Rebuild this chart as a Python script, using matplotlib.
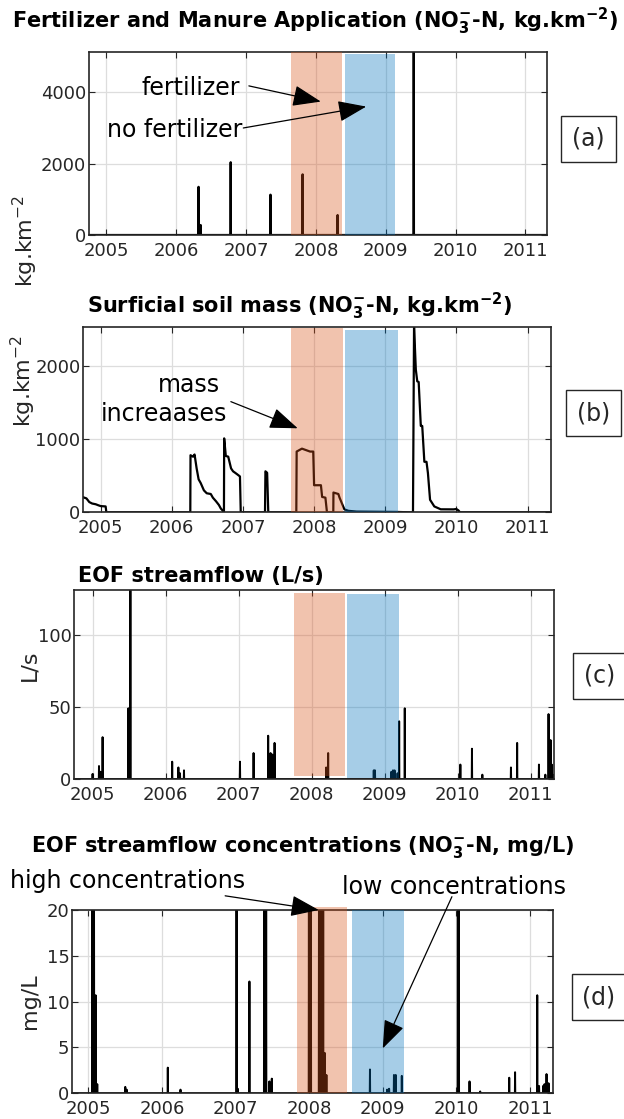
import numpy as np
import matplotlib
matplotlib.use('Agg')
import matplotlib.pyplot as plt
from matplotlib.patches import Rectangle

W, H = 624, 1119

# ---- data (decimal years) ----
# (a) fertilizer / manure applications, kg.km-2
fert_dates = [2006.32, 2006.35, 2006.78, 2007.35, 2007.81, 2008.31, 2009.40]
fert_vals = [1350, 280, 2040, 1130, 1700, 560, 5130]

# (b) surficial soil mass, kg.km-2
soil_t = [2004.756, 2004.80, 2004.84, 2004.88, 2004.93, 2004.97, 2005.00, 2005.07, 2005.08,
          2006.26, 2006.263, 2006.298, 2006.32, 2006.349, 2006.377, 2006.406, 2006.451,
          2006.491, 2006.548, 2006.577, 2006.622, 2006.662, 2006.690, 2006.719, 2006.733,
          2006.736, 2006.759, 2006.793, 2006.833, 2006.861, 2006.890, 2006.918, 2006.958,
          2006.969, 2007.31, 2007.316, 2007.34, 2007.356, 2007.75, 2007.755, 2007.829,
          2007.886, 2007.943, 2007.988, 2008.0, 2008.096, 2008.113, 2008.159, 2008.181,
          2008.27, 2008.272, 2008.341, 2008.358, 2008.426, 2008.483, 2008.597, 2009.166,
          2009.337, 2009.39, 2009.405, 2009.43, 2009.45, 2009.47, 2009.50, 2009.52,
          2009.55, 2009.58, 2009.60, 2009.63, 2009.69, 2009.78, 2009.96, 2010.0, 2010.03,
          2010.05, 2011.33]
soil_v = [205, 190, 140, 120, 110, 95, 85, 80, 0,
          0, 780, 760, 790, 600, 450, 400, 300,
          260, 250, 200, 150, 100, 50, 20, 0,
          1010, 770, 760, 600, 560, 540, 520, 490,
          0, 0, 560, 540, 0, 0, 830, 870,
          850, 830, 830, 370, 370, 210, 200, 0,
          0, 270, 250, 200, 40, 20, 10, 5,
          0, 0, 2540, 1950, 1790, 1780, 1180, 1180,
          690, 690, 536, 171, 80, 41, 40, 45, 25,
          0, 0]

# (c) EOF streamflow, L/s
flow_dates = [2005.0, 2005.087, 2005.109, 2005.136, 2005.490, 2005.517, 2006.088, 2006.175,
              2006.197, 2006.251, 2007.018, 2007.203, 2007.405, 2007.437, 2007.459, 2007.492,
              2008.199, 2008.226, 2008.852, 2008.868, 2009.091, 2009.113, 2009.135, 2009.178,
              2009.200, 2009.276, 2010.038, 2010.196, 2010.337, 2010.729, 2010.816, 2011.115,
              2011.202, 2011.246, 2011.273, 2011.289, 2011.306]
flow_vals = [3.5, 9, 5, 29, 49, 135, 12, 8,
             4, 6, 12, 18, 30, 18, 17, 25,
             8, 18, 6, 6, 5, 6, 6, 4,
             40, 49, 10, 21, 3, 8, 25, 10,
             3, 45, 27, 10, 3]

# (d) EOF NO3-N concentrations, mg/L
conc_dates = [2005.054, 2005.075, 2005.097, 2005.119, 2005.50, 2005.52, 2006.078, 2006.25,
              2007.011, 2007.03, 2007.189, 2007.388, 2007.415, 2007.458, 2007.491, 2007.997,
              2008.024, 2008.132, 2008.164, 2008.191, 2008.213, 2008.234, 2008.827, 2009.059,
              2009.086, 2009.151, 2009.178, 2009.259, 2010.02, 2010.035, 2010.18, 2010.326,
              2010.72, 2010.80, 2011.10, 2011.124, 2011.18, 2011.20, 2011.226, 2011.253]
conc_vals = [21, 21, 10.7, 1.0, 0.7, 0.4, 2.8, 0.4,
             21, 0.5, 12.2, 21, 21, 1.3, 1.6, 21,
             21, 21, 21, 21, 4.4, 2.0, 2.6, 0.4,
             0.5, 2.0, 2.0, 1.9, 21, 21, 1.3, 0.2,
             1.7, 2.3, 10.7, 0.8, 0.8, 1.0, 2.1, 1.1]

# shaded periods per panel: (x0, x1, y0, y1)
fert_span = {'a': (2007.64, 2008.37, 0, 5130), 'b': (2007.675, 2008.40, 0, 2525),
             'c': (2007.764, 2008.45, 2.3, 129), 'd': (2007.83, 2008.52, 0, 20.3)}
nofert_span = {'a': (2008.41, 2009.14, 0, 5060), 'b': (2008.44, 2009.18, 0, 2490),
               'c': (2008.49, 2009.19, 0.5, 128), 'd': (2008.58, 2009.29, 0, 20)}

years = [2005, 2006, 2007, 2008, 2009, 2010, 2011]

ORANGE = (0.85, 0.325, 0.098)
BLUE = (0.0, 0.447, 0.741)
TXT = '#262626'

fig = plt.figure(figsize=(W / 100, H / 100), dpi=100)


def px_axes(l, t, r, b):
    return fig.add_axes([l / W, 1 - b / H, (r - l) / W, (b - t) / H])


def daily(dates, vals, t0, t1):
    t = np.arange(t0, t1, 1 / 365.0)
    y = np.zeros_like(t)
    for d, v in zip(dates, vals):
        y[int(round((d - t0) * 365))] = v
    return t, y


def style(ax, xlim, ylim, yticks):
    ax.set_xlim(*xlim)
    ax.set_ylim(*ylim)
    ax.set_xticks(years)
    ax.set_xticklabels([str(y) for y in years])
    ax.set_yticks(yticks)
    ax.grid(True, color='#dddddd', lw=0.9)
    ax.set_axisbelow(True)
    ax.tick_params(direction='in', top=True, right=True, length=4, width=0.8,
                   labelsize=13, labelcolor=TXT, color=TXT, pad=5)
    ax.tick_params(axis='y', pad=2)
    for s in ax.spines.values():
        s.set_color(TXT)
        s.set_linewidth(1.2)


def spans(ax, key):
    for sp, c in [(fert_span[key], ORANGE), (nofert_span[key], BLUE)]:
        x0, x1, y0, y1 = sp
        ax.fill_between([x0, x1], y0, y1, color=c, alpha=0.35, lw=0, zorder=3, clip_on=False)


def label_box(cx, cy, txt):
    w, h = 55, 46
    fig.add_artist(Rectangle(((cx - w / 2) / W, 1 - (cy + h / 2) / H), w / W, h / H,
                             transform=fig.transFigure, fill=False, ec=TXT, lw=1.0))
    fig.text(cx / W, 1 - cy / H, txt, ha='center', va='center', fontsize=17, color=TXT)


def ftext(x, y, s, **kw):
    fig.text(x / W, 1 - y / H, s, ha='center', va='center', **kw)


arrow = dict(arrowstyle='-|>,head_length=0.8,head_width=0.3', color='k', lw=0.9,
             mutation_scale=22, shrinkA=0, shrinkB=0)

# ---- (a) ----
ax = px_axes(89, 52, 547, 235)
t, y = daily(fert_dates, fert_vals, 2004.7, 2011.35)
ax.plot(t, y, color='k', lw=1.6, zorder=2)
spans(ax, 'a')
style(ax, (2004.75, 2011.31), (0, 5130), [0, 2000, 4000])
ax.text(2006.91, 4123, 'fertilizer', ha='right', va='center', fontsize=17)
ax.text(2006.95, 2945, 'no fertilizer', ha='right', va='center', fontsize=17)
ax.annotate('', xy=(2008.07, 3740), xytext=(2007.04, 4180), arrowprops=arrow)
ax.annotate('', xy=(2008.72, 3600), xytext=(2006.96, 3000), arrowprops=arrow)
ftext(315, 21, r'Fertilizer and Manure Application (NO$_\mathbf{3}^\mathbf{-}$-N, kg.km$^\mathbf{-2}$)',
      fontsize=15, fontweight='bold')
ftext(25, 241, r'kg.km$^{-2}$', rotation=90, fontsize=16, color=TXT)
label_box(588.5, 138.5, '(a)')

# ---- (b) ----
ax = px_axes(83.3, 326.7, 551, 512.3)
ax.plot(soil_t, soil_v, color='k', lw=1.6, zorder=2)
spans(ax, 'b')
style(ax, (2004.756, 2011.33), (0, 2536), [0, 1000, 2000])
ax.text(2006.24, 1739, 'mass', ha='center', va='center', fontsize=17)
ax.text(2005.89, 1343, 'increaases', ha='center', va='center', fontsize=17)
ax.annotate('', xy=(2007.77, 1148), xytext=(2006.83, 1512), arrowprops=arrow)
ftext(300, 306, r'Surficial soil mass (NO$_\mathbf{3}^\mathbf{-}$-N, kg.km$^\mathbf{-2}$)',
      fontsize=15, fontweight='bold')
ftext(23, 381, r'kg.km$^{-2}$', rotation=90, fontsize=16, color=TXT)
label_box(593.5, 413, '(b)')

# ---- (c) ----
ax = px_axes(74.3, 590, 554, 779)
t, y = daily(flow_dates, flow_vals, 2004.7, 2011.35)
ax.plot(t, y, color='k', lw=1.4, zorder=2)
spans(ax, 'c')
style(ax, (2004.748, 2011.32), (0, 131), [0, 50, 100])
ftext(201, 576, 'EOF streamflow (L/s)', fontsize=15, fontweight='bold')
ftext(29, 665, 'L/s', rotation=90, fontsize=16, color=TXT)
label_box(600, 676, '(c)')

# ---- (d) ----
ax = px_axes(72.3, 910, 552.7, 1093.3)
t, y = daily(conc_dates, conc_vals, 2004.7, 2011.35)
ax.plot(t, y, color='k', lw=1.4, zorder=2)
spans(ax, 'd')
style(ax, (2004.78, 2011.31), (0, 20), [0, 5, 10, 15, 20])
ax.annotate('high concentrations', xy=(2008.13, 20.0), xytext=(2007.13, 23.16),
            ha='right', va='center', fontsize=17, arrowprops=arrow, annotation_clip=False)
ax.text(2009.97, 22.5, 'low concentrations', ha='center', va='center', fontsize=17)
ax.annotate('', xy=(2009.0, 4.9), xytext=(2009.94, 21.45), arrowprops=arrow)
ftext(303, 847, r'EOF streamflow concentrations (NO$_\mathbf{3}^\mathbf{-}$-N, mg/L)',
      fontsize=15, fontweight='bold')
ftext(30, 1001, 'mg/L', rotation=90, fontsize=16, color=TXT)
label_box(599, 997, '(d)')

fig.savefig('out.png', dpi=100, facecolor='white')
